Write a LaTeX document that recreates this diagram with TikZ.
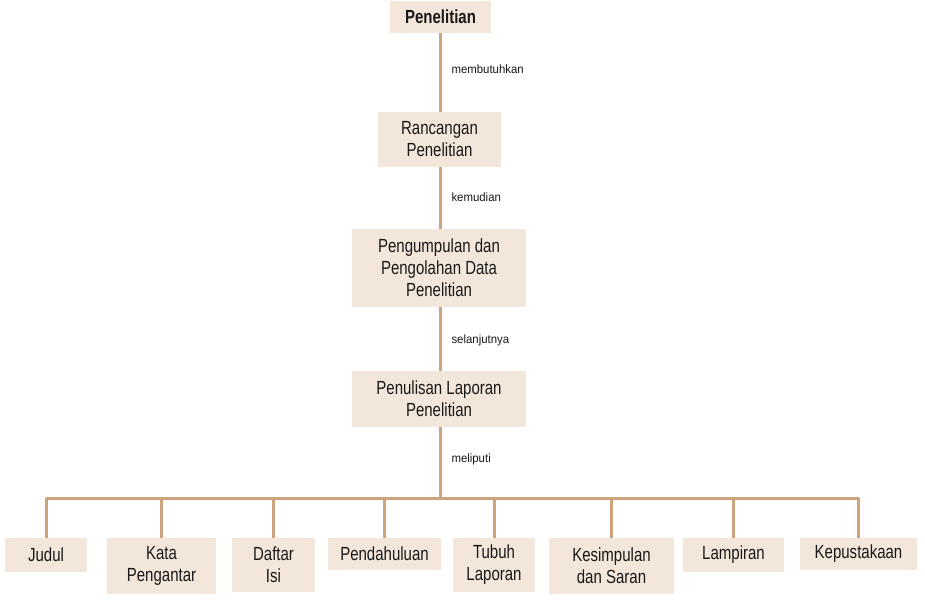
\documentclass[tikz,border=0pt]{standalone}
\usepackage{fontspec}
\setmainfont{Liberation Sans}[FakeStretch=0.79]
\newfontfamily\lblfont{Liberation Sans}[FakeStretch=0.95]
\definecolor{boxfill}{RGB}{243,230,218}
\definecolor{linec}{RGB}{204,163,124}
\tikzset{
  box/.style={fill=boxfill, draw=none, align=center, inner sep=0pt,
    font=\fontsize{19}{22}\selectfont, text=black!90},
  conn/.style={draw=linec, line width=3pt},
  lbl/.style={anchor=west, xshift=10pt, inner sep=0pt,
    font=\lblfont\fontsize{12}{14}\selectfont, text=black!90}
}
\begin{document}
\begin{tikzpicture}[x=1pt,y=-1pt]
\useasboundingbox[fill=white] (0,0) rectangle (925,599);
% main column
\node[box, minimum width=101pt, minimum height=32pt, font=\bfseries\fontsize{19}{22}\selectfont] (p0) at (440.5,17) {Penelitian};
\node[box, minimum width=123pt, minimum height=55pt] (p1) at (439.5,139.5) {Rancangan\\Penelitian};
\node[box, minimum width=174pt, minimum height=78pt] (p2) at (439,268) {Pengumpulan dan\\Pengolahan Data\\Penelitian};
\node[box, minimum width=174pt, minimum height=56pt] (p3) at (439,399) {Penulisan Laporan\\Penelitian};
% bottom row
\node[box, minimum width=82pt, minimum height=34pt] (b1) at (46,555) {Judul};
\node[box, minimum width=109pt, minimum height=56pt] (b2) at (161.5,566) {Kata\\Pengantar};
\node[box, minimum width=83pt, minimum height=54pt] (b3) at (273.5,565) {Daftar\\Isi};
\node[box, minimum width=113pt, minimum height=32pt] (b4) at (384.5,554) {Pendahuluan};
\node[box, minimum width=82pt, minimum height=54pt] (b5) at (494,565) {Tubuh\\Laporan};
\node[box, minimum width=125pt, minimum height=56pt] (b6) at (611.5,566) {Kesimpulan\\dan Saran};
\node[box, minimum width=101pt, minimum height=34pt] (b7) at (733.5,555) {Lampiran};
\node[box, minimum width=117pt, minimum height=32pt] (b8) at (858.5,554) {Kepustakaan};
\coordinate (bar) at (440,498);
% connectors
\draw[conn] (p0.south -| bar) -- node[lbl, pos=0.46] {membutuhkan} (p1.north -| bar);
\draw[conn] (p1.south -| bar) -- node[lbl, pos=0.48] {kemudian} (p2.north -| bar);
\draw[conn] (p2.south -| bar) -- node[lbl, pos=0.52] {selanjutnya} (p3.north -| bar);
\draw[conn] (p3.south -| bar) -- node[lbl, pos=0.45] {meliputi} (bar);
\draw[conn] (b1.north |- bar) -- (b8.north |- bar);
\foreach \b in {b1,b2,b3,b4,b5,b6,b7,b8}{
  \draw[conn] (\b.north |- bar) -- (\b.north);
}
\end{tikzpicture}
\end{document}
